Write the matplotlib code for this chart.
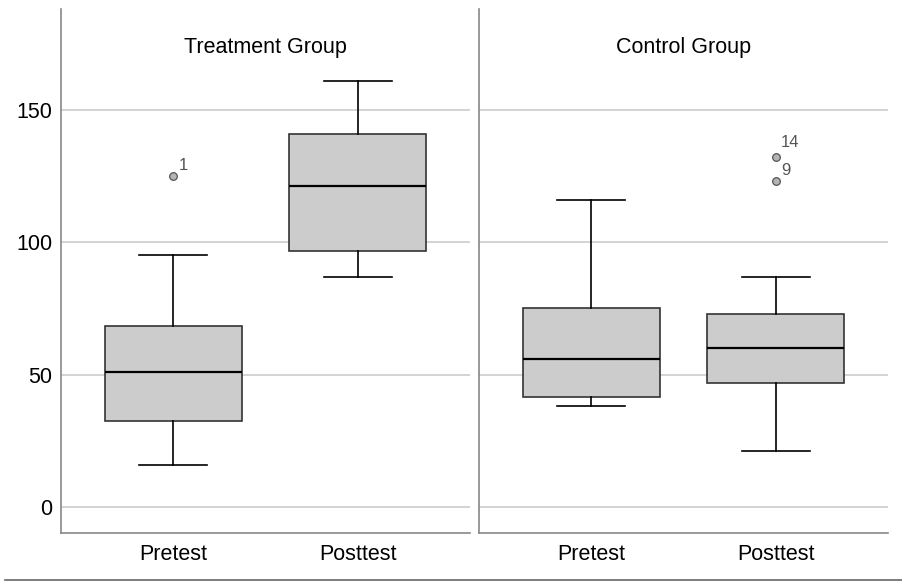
import matplotlib.pyplot as plt
from matplotlib.lines import Line2D
from matplotlib.transforms import blended_transform_factory

# Box statistics
groups = ["Treatment Group", "Control Group"]
tests = ["Pretest", "Posttest"]
whislo = [[16, 87], [38, 21]]
q1 = [[32.5, 96.5], [41.5, 46.8]]
med = [[51, 121], [56, 60]]
q3 = [[68.5, 141], [75, 72.8]]
whishi = [[95, 161], [116, 87]]
fliers = [[[125], []], [[], [132, 123]]]
flier_ids = [[["1"], []], [[], ["14", "9"]]]
yticks = [0, 50, 100, 150]

plt.rcParams['font.family'] = ['Liberation Sans', 'DejaVu Sans']

fig = plt.figure(figsize=(9.02, 5.81), dpi=100)
W, H = 902, 581
lefts = [61, 479]
for g, left in enumerate(lefts):
    ax = fig.add_axes([left / W, 48 / H, 409 / W, 524 / H])
    stats = []
    for t in range(len(tests)):
        stats.append({
            'whislo': whislo[g][t], 'q1': q1[g][t], 'med': med[g][t],
            'q3': q3[g][t], 'whishi': whishi[g][t], 'fliers': fliers[g][t],
        })
    ax.bxp(stats, positions=range(len(tests)), widths=0.74, patch_artist=True,
           boxprops=dict(facecolor='#cccccc', edgecolor='#333333', linewidth=1.2),
           medianprops=dict(color='black', linewidth=1.6),
           whiskerprops=dict(color='black', linewidth=1.2),
           capprops=dict(color='black', linewidth=1.2),
           capwidths=0.37,
           flierprops=dict(marker='o', markersize=5.5, markerfacecolor='#b4b4b4',
                           markeredgecolor='#555555', markeredgewidth=0.9))
    for t in range(len(tests)):
        for k, (val, lab) in enumerate(zip(fliers[g][t], flier_ids[g][t])):
            # lift the upper label of a stacked pair a little, as SPSS does
            dy = 5 if (len(fliers[g][t]) > 1 and val == max(fliers[g][t])) else 2
            ax.annotate(lab, (t, val), xytext=(4, dy), textcoords='offset points',
                        ha='left', va='bottom', fontsize=12, color='#555555')

    ax.set_xlim(-0.61, 1.61)
    ax.set_ylim(-9.8, 188)
    ax.set_yticks(yticks)
    ax.set_xticks(range(len(tests)))
    ax.set_xticklabels(tests, fontsize=15.5)
    ax.tick_params(axis='both', length=0)
    ax.tick_params(axis='x', pad=8)
    ax.tick_params(axis='y', pad=6, labelsize=15.5)
    if g > 0:
        ax.tick_params(axis='y', labelleft=False)
    ax.grid(axis='y', color='#d0d0d0', linewidth=1.3)
    ax.set_axisbelow(True)
    for side in ['top', 'right']:
        ax.spines[side].set_visible(False)
    for side in ['left', 'bottom']:
        ax.spines[side].set_color('#888888')
        ax.spines[side].set_linewidth(1.2)
    trans = blended_transform_factory(ax.transAxes, ax.transData)
    ax.text(0.5, 173.5, groups[g], transform=trans,
            ha='center', va='center', fontsize=15.5)

# thin rule at the bottom of the image
fig.add_artist(Line2D([5 / W, 1.0], [1.5 / H, 1.5 / H], color='#666666', linewidth=1.2))

plt.savefig('out.png', dpi=100)
